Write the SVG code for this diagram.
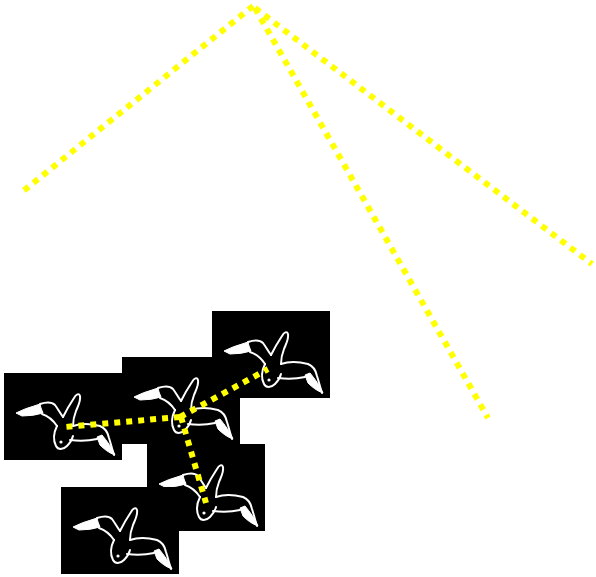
<svg xmlns="http://www.w3.org/2000/svg" xmlns:xlink="http://www.w3.org/1999/xlink" width="596" height="577" viewBox="0 0 596 577">
<style>
.card{fill:#000}
.ink{fill:none;stroke:#fff;stroke-width:2;stroke-linecap:round;stroke-linejoin:round}
.solid{fill:#fff;stroke:#fff;stroke-width:1;stroke-linejoin:round}
.dots{fill:none;stroke:#ffff00;stroke-width:6;stroke-dasharray:6 6}
</style>
<defs>
  <!-- white line drawing of a flying bird, coordinates local to its card -->
  <g id="bird">
    <path class="solid" d="M12,40 Q22,35 30,33 L36,31 L37,35 L39,40 Q30,43 18,43 Z"/>
    <path class="ink" d="M36,31 C42,29 48,29 51,32 C54,36 56,40 59,44"/>
    <path class="ink" d="M38,41 C44,43 49,47 53,53"/>
    <path class="ink" d="M59,44 C62,38 66,31 70,25 C72,21 75,20 76,23 C77,28 74,33 72,38 C70,43 69,48 69,53"/>
    <path class="ink" d="M53,53 C50,59 49,67 52,73 C54,77 59,77 63,73 C66,70 68,67 69,63"/>
    <path class="ink" d="M69,53 C78,50 88,51 96,53 C101,55 104,60 105,65 C107,71 108,76 110,82"/>
    <path class="ink" d="M66,67 C74,68 84,68 93,66"/>
    <path class="solid" d="M93,64 L98,62 C103,68 108,75 111,82 C105,80 100,76 96,72 Z"/>
    <circle cx="57" cy="69" r="1.6" fill="#fff"/>
  </g>
</defs>

<g id="node-a" transform="translate(4,373)">
  <rect class="card" width="118" height="87"/>
  <use xlink:href="#bird"/>
</g>
<g id="node-b" transform="translate(122,357)">
  <rect class="card" width="118" height="87"/>
  <use xlink:href="#bird"/>
</g>
<g id="node-c" transform="translate(212,311)">
  <rect class="card" width="118" height="87"/>
  <use xlink:href="#bird"/>
</g>
<g id="node-d" transform="translate(147,444)">
  <rect class="card" width="118" height="87"/>
  <use xlink:href="#bird"/>
</g>
<g id="node-e" transform="translate(61,487)">
  <rect class="card" width="118" height="87"/>
  <use xlink:href="#bird"/>
</g>

<g id="connectors">
  <path class="dots" d="M253,6 L22,192"/>
  <path class="dots" d="M255,8 L488,418"/>
  <path class="dots" d="M255,8 L592,264"/>
  <path class="dots" d="M180,417 L65,427"/>
  <path class="dots" d="M180,417 L268,369"/>
  <path class="dots" d="M181,417 L206,503"/>
</g>
</svg>
